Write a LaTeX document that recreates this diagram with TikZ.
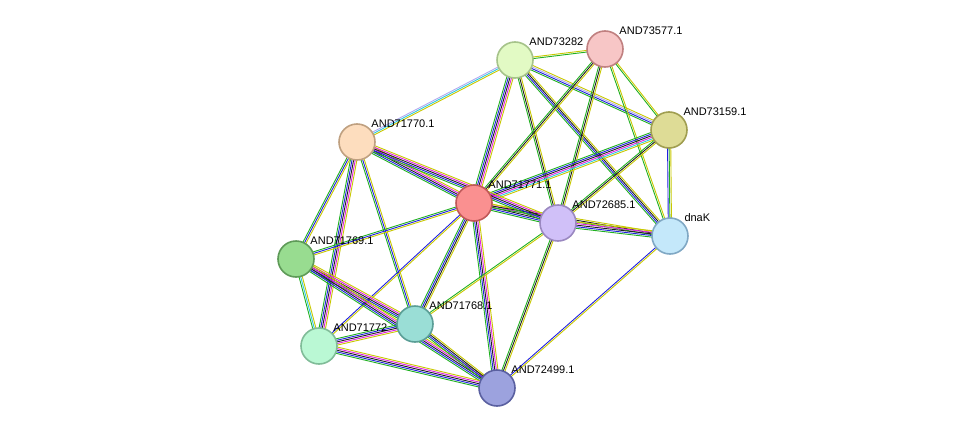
\documentclass[tikz,border=0pt]{standalone}
\usepackage{fontspec}
\setmainfont{Liberation Sans}
\usetikzlibrary{calc,backgrounds}
\definecolor{tmine}{HTML}{C8C800}
\definecolor{nbhd}{HTML}{20B020}
\definecolor{cooc}{HTML}{2020E0}
\definecolor{coex}{HTML}{202020}
\definecolor{expt}{HTML}{E020E0}
\definecolor{dbase}{HTML}{30C8E0}
\definecolor{homol}{HTML}{B0A8F0}
\definecolor{f3282}{HTML}{E2FAC4}\definecolor{d3282}{HTML}{A6C38A}
\definecolor{f3577}{HTML}{F7C6C6}\definecolor{d3577}{HTML}{C08080}
\definecolor{f3159}{HTML}{DEDC96}\definecolor{d3159}{HTML}{A09E50}
\definecolor{f1770}{HTML}{FDDDBE}\definecolor{d1770}{HTML}{BFA080}
\definecolor{f1771}{HTML}{FA9090}\definecolor{d1771}{HTML}{C05858}
\definecolor{f2685}{HTML}{D0C0F8}\definecolor{d2685}{HTML}{9A88C0}
\definecolor{fdnaK}{HTML}{C4E8FA}\definecolor{ddnaK}{HTML}{80A8C4}
\definecolor{f1769}{HTML}{98DC90}\definecolor{d1769}{HTML}{5E9A58}
\definecolor{f1768}{HTML}{9ADED6}\definecolor{d1768}{HTML}{5A9E96}
\definecolor{f1772}{HTML}{BAF8D4}\definecolor{d1772}{HTML}{80BC98}
\definecolor{f2499}{HTML}{9CA2DE}\definecolor{d2499}{HTML}{5A60A0}
\tikzstyle{protein}=[circle, draw, line width=1.6pt, minimum size=36pt, inner sep=0]
\tikzstyle{plabel}=[font=\fontsize{11}{12}\selectfont, inner sep=1pt, anchor=south west]
\newcommand{\link}[4]{%
  \foreach \c [count=\i] in {#4} {%
    \pgfmathsetmacro\o{(\i-(#3+1)/2)*1.6}
    \draw[\c, line width=0.9pt] ($(#1)!\o pt!90:(#2)$) -- ($(#2)!\o pt!-90:(#1)$);
  }}
\begin{document}
\begin{tikzpicture}[x=1pt, y=-1pt]
        \useasboundingbox (0,0) rectangle (975,434);
        \node[protein, fill=f3282, draw=d3282] (A3282) at (515, 60) {};
        \node[protein, fill=f3577, draw=d3577] (A3577) at (605, 49) {};
        \node[protein, fill=f3159, draw=d3159] (A3159) at (669, 130) {};
        \node[protein, fill=f1770, draw=d1770] (A1770) at (357, 142) {};
        \node[protein, fill=f1771, draw=d1771] (A1771) at (474, 203) {};
        \node[protein, fill=f2685, draw=d2685] (A2685) at (558, 223) {};
        \node[protein, fill=fdnaK, draw=ddnaK] (dnaK)  at (670, 236) {};
        \node[protein, fill=f1769, draw=d1769] (A1769) at (296, 259) {};
        \node[protein, fill=f1768, draw=d1768] (A1768) at (415, 324) {};
        \node[protein, fill=f1772, draw=d1772] (A1772) at (319, 346) {};
        \node[protein, fill=f2499, draw=d2499] (A2499) at (497, 388) {};
        \node[plabel] at (A3282.north east) {AND73282};
        \node[plabel] at (A3577.north east) {AND73577.1};
        \node[plabel] at (A3159.north east) {AND73159.1};
        \node[plabel] at (A1770.north east) {AND71770.1};
        \node[plabel] at (A1771.north east) {AND71771.1};
        \node[plabel] at (A2685.north east) {AND72685.1};
        \node[plabel] at (dnaK.north east)  {dnaK};
        \node[plabel] at (A1769.north east) {AND71769.1};
        \node[plabel] at (A1768.north east) {AND71768.1};
        \node[plabel] at (A1772.north east) {AND71772};
        \node[plabel] at (A2499.north east) {AND72499.1};
        \begin{scope}[on background layer]
        \link{A3282}{A3577}{2}{nbhd,tmine}
        \link{A3282}{A3159}{4}{nbhd,cooc,homol,tmine}
        \link{A3282}{dnaK}{4}{nbhd,cooc,coex,tmine}
        \link{A3282}{A1771}{5}{nbhd,cooc,coex,expt,tmine}
        \link{A3282}{A2685}{3}{nbhd,coex,tmine}
        \link{A3282}{A1770}{3}{homol,dbase,tmine}
        \link{A3577}{A1771}{3}{nbhd,coex,tmine}
        \link{A3577}{A2685}{3}{nbhd,coex,tmine}
        \link{A3577}{A3159}{2}{nbhd,tmine}
        \link{A3577}{dnaK}{2}{nbhd,tmine}
        \link{A3159}{A1771}{6}{nbhd,cooc,coex,expt,dbase,tmine}
        \link{A3159}{A2685}{3}{nbhd,coex,tmine}
        \link{A3159}{dnaK}{3}{cooc,nbhd,tmine}
        \link{A1771}{A2685}{5}{nbhd,cooc,coex,expt,tmine}
        \link{A1771}{dnaK}{3}{nbhd,coex,tmine}
        \link{A2685}{dnaK}{5}{nbhd,cooc,coex,expt,tmine}
        \link{A1770}{A1771}{5}{nbhd,cooc,coex,expt,tmine}
        \link{A1770}{A2685}{5}{nbhd,cooc,coex,expt,tmine}
        \link{A1770}{A1769}{3}{nbhd,cooc,tmine}
        \link{A1770}{A1772}{5}{nbhd,cooc,coex,expt,tmine}
        \link{A1770}{A1768}{3}{nbhd,cooc,tmine}
        \link{A1771}{A1769}{3}{nbhd,cooc,tmine}
        \link{A1771}{A1768}{4}{nbhd,cooc,coex,tmine}
        \link{A1771}{A1772}{2}{cooc,tmine}
        \link{A1771}{A2499}{5}{nbhd,cooc,coex,expt,tmine}
        \link{A2685}{A2499}{3}{nbhd,coex,tmine}
        \link{A2685}{A1768}{2}{nbhd,tmine}
        \link{dnaK}{A2499}{2}{cooc,tmine}
        \link{A1769}{A1772}{3}{nbhd,dbase,tmine}
        \link{A1769}{A1768}{5}{nbhd,cooc,coex,expt,tmine}
        \link{A1769}{A2499}{5}{nbhd,cooc,coex,expt,tmine}
        \link{A1768}{A1772}{5}{nbhd,cooc,coex,expt,tmine}
        \link{A1768}{A2499}{4}{nbhd,cooc,coex,tmine}
        \link{A1772}{A2499}{5}{nbhd,cooc,coex,expt,tmine}
        \end{scope}
    \end{tikzpicture}
\end{document}
